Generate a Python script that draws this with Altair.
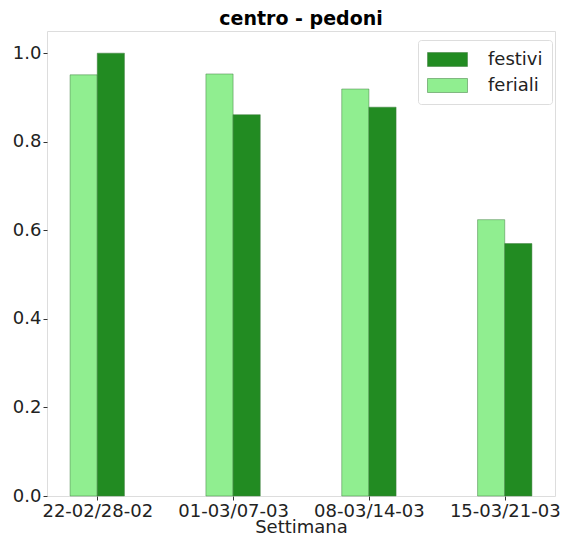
import altair as alt
import pandas as pd

weeks = ["22-02/28-02", "01-03/07-03", "08-03/14-03", "15-03/21-03"]
feriali = [0.951, 0.953, 0.919, 0.624]
festivi = [1.0, 0.861, 0.878, 0.570]
series_names = ["festivi", "feriali"]
series_colors = ["#228B22", "#90EE90"]
y_ticks = [0.0, 0.2, 0.4, 0.6, 0.8, 1.0]

rows = []
for i, w in enumerate(weeks):
    rows.append({"week": w, "idx": i, "serie": "feriali", "off": -0.2, "value": feriali[i]})
    rows.append({"week": w, "idx": i, "serie": "festivi", "off": 0.0, "value": festivi[i]})
df = pd.DataFrame(rows)

label_expr = "[" + ",".join("'" + w + "'" for w in weeks) + "][datum.value]"

FONT = "DejaVu Sans"

chart = (
    alt.Chart(df)
    .transform_calculate(x0="datum.idx + datum.off", x1="datum.idx + datum.off + 0.2")
    .mark_bar(stroke="#3a7a3a", strokeWidth=0.8, strokeOpacity=0.6)
    .encode(
        x=alt.X(
            "x0:Q",
            scale=alt.Scale(domain=[-0.37, 3.37], nice=False, zero=False),
            axis=alt.Axis(
                values=[0, 1, 2, 3],
                labelExpr=label_expr,
                title="Settimana",
                grid=False,
                domain=False,
                tickColor="#333333",
                tickSize=4,
                labelFontSize=18,
                labelFont=FONT,
                labelColor="#222222",
                labelPadding=2,
                titleFont=FONT,
                titleFontSize=18,
                titleFontWeight="normal",
                titleColor="#222222",
                titlePadding=-2,
            ),
        ),
        x2="x1:Q",
        y=alt.Y(
            "value:Q",
            scale=alt.Scale(domain=[0, 1.05], nice=False),
            axis=alt.Axis(
                values=y_ticks,
                format=".1f",
                title=None,
                grid=False,
                domain=False,
                tickColor="#333333",
                tickSize=4,
                labelFontSize=18,
                labelFont=FONT,
                labelColor="#222222",
                labelPadding=2,
            ),
        ),
        y2=alt.datum(0),
        color=alt.Color(
            "serie:N",
            scale=alt.Scale(domain=series_names, range=series_colors),
            legend=alt.Legend(
                title=None,
                orient="none",
                legendX=371,
                legendY=9,
                symbolType="M-2,-0.7H2V0.7H-2Z",
                symbolSize=400,
                symbolOffset=10,
                symbolStrokeColor="#3a7a3a",
                symbolStrokeWidth=0.5,
                labelFontSize=18,
                labelFont=FONT,
                labelColor="#222222",
                rowPadding=6,
                padding=9,
                strokeColor="#dddddd",
                fillColor="white",
                cornerRadius=3,
                labelOffset=30,
            ),
        ),
    )
    .properties(
        width=508,
        height=465,
        title=alt.TitleParams(
            "centro - pedoni", font=FONT, fontSize=19, fontWeight="bold", color="black", offset=2
        ),
        autosize=alt.AutoSizeParams(type="none"),
        padding={"left": 39, "top": 23, "right": 7, "bottom": 39},
    )
    .configure_view(stroke="#888888", strokeWidth=1.2)
    .configure(background="white")
)

chart.save("out.html", embed_options={"renderer": "svg", "actions": False})
